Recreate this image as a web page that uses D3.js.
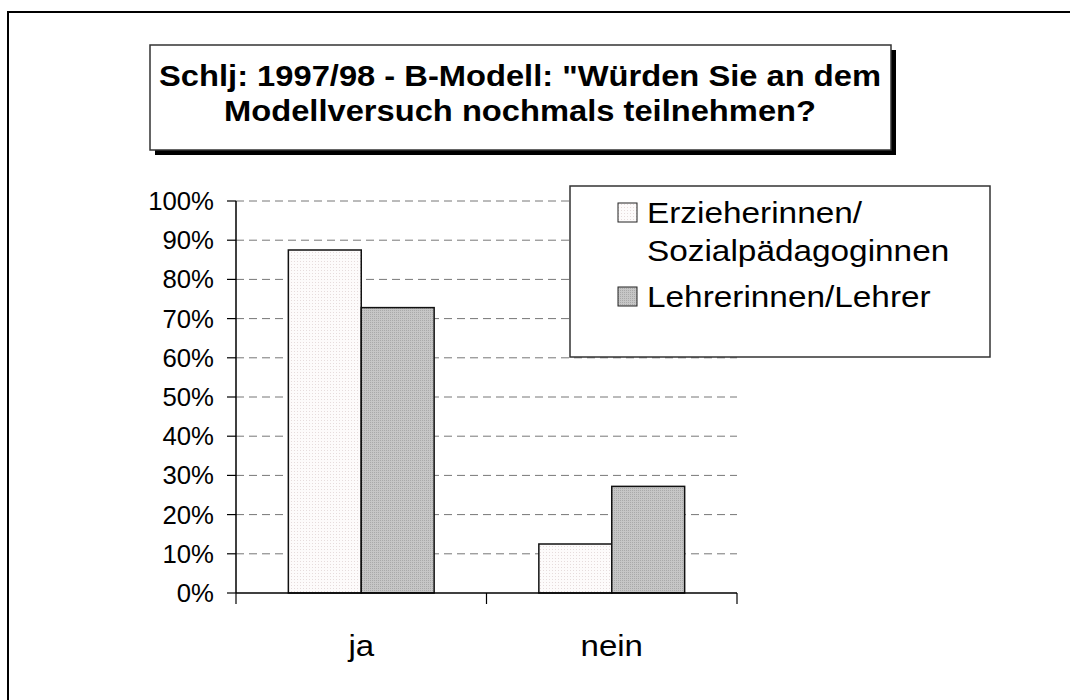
<!DOCTYPE html>
<html>
<head>
<meta charset="utf-8">
<script src="https://cdn.jsdelivr.net/npm/d3@7"></script>
<style>
  html, body { margin: 0; padding: 0; background: #fff; }
  svg { display: block; }
  text { font-family: Arial, "Liberation Sans", sans-serif; fill: #000; }
</style>
</head>
<body>
<div id="chart"></div>
<script>
  // chart values
  const categories = ['ja', 'nein'];
  const seriesNames = ['Erzieherinnen/Sozialpädagoginnen', 'Lehrerinnen/Lehrer'];
  const legendLines = [['Erzieherinnen/', 'Sozialpädagoginnen'], ['Lehrerinnen/Lehrer']];
  const erzieherinnen = [87.5, 12.5];
  const lehrer = [72.8, 27.2];
  const yTicks = [0, 10, 20, 30, 40, 50, 60, 70, 80, 90, 100];
  const titleLines = ['Schlj: 1997/98 - B-Modell: "Würden Sie an dem', 'Modellversuch nochmals teilnehmen?'];

  const W = 1070, H = 700;

  const svg = d3.select('#chart').append('svg')
    .attr('width', W).attr('height', H);

  // fill textures
  const defs = svg.append('defs');
  const p1 = defs.append('pattern').attr('id', 'pat-erz')
    .attr('width', 3).attr('height', 3).attr('patternUnits', 'userSpaceOnUse');
  p1.append('rect').attr('width', 3).attr('height', 3).attr('fill', '#fdfbfb');
  p1.append('rect').attr('width', 1).attr('height', 1).attr('fill', '#e6dcdc');
  const p2 = defs.append('pattern').attr('id', 'pat-leh')
    .attr('width', 2).attr('height', 2).attr('patternUnits', 'userSpaceOnUse');
  p2.append('rect').attr('width', 2).attr('height', 2).attr('fill', '#c6c6c6');
  p2.append('rect').attr('width', 1).attr('height', 1).attr('fill', '#a9a9a9');
  const fills = ['url(#pat-erz)', 'url(#pat-leh)'];

  // text in the original is slightly stretched sideways, sx does that
  function label(parent, x, y, str, size, anchor, weight, sx) {
    return parent.append('text')
      .attr('transform', `translate(${x},${y}) scale(${sx || 1},1)`)
      .attr('text-anchor', anchor || 'start')
      .attr('font-size', size + 'px')
      .attr('font-weight', weight || 'normal')
      .text(str);
  }

  // outer frame (runs off the page on right and bottom)
  svg.append('rect')
    .attr('x', 8).attr('y', 12).attr('width', 1200).attr('height', 900)
    .attr('fill', 'none').attr('stroke', '#000').attr('stroke-width', 2);

  // title box with shadow
  svg.append('rect').attr('x', 155).attr('y', 50).attr('width', 741).attr('height', 105).attr('fill', '#000');
  svg.append('rect').attr('x', 150).attr('y', 45).attr('width', 741).attr('height', 105)
    .attr('fill', '#fff').attr('stroke', '#333').attr('stroke-width', 1.5);
  label(svg, 520, 86, titleLines[0], 30, 'middle', 'bold', 1.09);
  label(svg, 520, 121, titleLines[1], 30, 'middle', 'bold', 1.09);

  // scales
  const x = d3.scaleBand().domain(categories).range([236, 737]).padding(0);
  const y = d3.scaleLinear().domain([0, 100]).range([593, 201]);
  const groupW = x.bandwidth() * 0.582;
  const xs = d3.scaleBand().domain(d3.range(seriesNames.length)).range([0, groupW]);

  // gridlines
  svg.append('g').selectAll('line')
    .data(yTicks.filter(d => d > 0))
    .join('line')
    .attr('x1', 236).attr('x2', 737)
    .attr('y1', d => y(d)).attr('y2', d => y(d))
    .attr('stroke', '#777').attr('stroke-width', 1)
    .attr('stroke-dasharray', '8,5');

  // bars
  const series = [erzieherinnen, lehrer];
  series.forEach((vals, si) => {
    svg.append('g').selectAll('rect')
      .data(vals)
      .join('rect')
      .attr('x', (d, i) => x(categories[i]) + (x.bandwidth() - groupW) / 2 + xs(si))
      .attr('y', d => y(d))
      .attr('width', xs.bandwidth())
      .attr('height', d => y(0) - y(d))
      .attr('fill', fills[si])
      .attr('stroke', '#111').attr('stroke-width', 1.5);
  });

  // y axis
  const yAxis = svg.append('g');
  yAxis.append('line').attr('x1', 236).attr('x2', 236).attr('y1', y(100)).attr('y2', y(0))
    .attr('stroke', '#000').attr('stroke-width', 1.5);
  yTicks.forEach(t => {
    yAxis.append('line').attr('x1', 227).attr('x2', 236).attr('y1', y(t)).attr('y2', y(t))
      .attr('stroke', '#000').attr('stroke-width', 1.2);
    label(yAxis, 214, y(t) + 9, t + '%', 25, 'end', 'normal', 1.03);
  });

  // x axis
  const xAxis = svg.append('g');
  xAxis.append('line').attr('x1', 236).attr('x2', 737).attr('y1', y(0)).attr('y2', y(0))
    .attr('stroke', '#000').attr('stroke-width', 1.5);
  [236].concat(categories.map(c => x(c) + x.bandwidth())).forEach(px => {
    xAxis.append('line').attr('x1', px).attr('x2', px).attr('y1', y(0)).attr('y2', y(0) + 11)
      .attr('stroke', '#000').attr('stroke-width', 1.2);
  });
  categories.forEach(c => {
    label(xAxis, x(c) + x.bandwidth() / 2, 656, c, 30, 'middle', 'normal', 1.1);
  });

  // legend
  const lg = svg.append('g');
  lg.append('rect').attr('x', 570).attr('y', 186).attr('width', 420).attr('height', 171)
    .attr('fill', '#fff').attr('stroke', '#333').attr('stroke-width', 1.5);
  const entryY = [203, 287];
  legendLines.forEach((lines, i) => {
    lg.append('rect').attr('x', 618).attr('y', entryY[i]).attr('width', 19).attr('height', 19)
      .attr('fill', fills[i]).attr('stroke', '#222').attr('stroke-width', 1);
    lines.forEach((ln, j) => {
      label(lg, 647, entryY[i] + 20 + j * 38, ln, 29, 'start', 'normal', 1.15);
    });
  });
</script>
</body>
</html>
